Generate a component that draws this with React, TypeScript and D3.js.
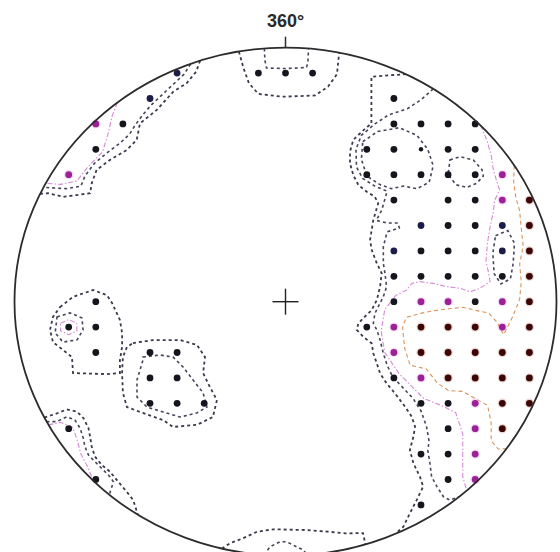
import React from "react";
import * as d3 from "d3";

const W = 560;
const H = 552;

// Net geometry: grid units run from -10 to 10 across the primitive circle
const X_RANGE: [number, number] = [14.5, 556.5];
const Y_RANGE: [number, number] = [47.7, 555.7];

const northLabel = "360°";

// Counting-grid nodes, grouped by density class (column, row)
const darkNodes: [number, number][] = [
  [-1, -9], [0, -9], [1, -9],
  [-6, -7], [-7, -6],
  [-7, 0], [-8, 1], [-7, 1], [-7, 2],
  [-5, 2], [-4, 2], [-5, 3], [-4, 3], [-5, 4], [-4, 4], [-3, 4],
  [-8, 5], [-7, 7],
  [4, -8],
  [4, -7], [5, -7], [6, -7], [7, -7],
  [3, -6], [4, -6], [6, -6], [7, -6],
  [3, -5], [4, -5], [5, -5], [6, -5], [7, -5],
  [4, -4], [6, -4], [7, -4],
  [6, -3], [7, -3],
  [5, -2], [6, -2], [7, -2],
  [4, -1], [5, -1], [6, -1], [7, -1], [8, -1],
  [4, 0], [7, 0],
  [3, 1],
  [4, 3],
  [5, 4], [6, 4],
  [6, 5],
  [5, 6], [6, 6],
  [6, 7],
  [5, 8],
];
const navyNodes: [number, number][] = [
  [-4, -9], [-5, -8], [5, -3], [8, -3], [4, -2], [8, -2],
];
const smallNodes: [number, number][] = [[5, -6]];
const magentaNodes: [number, number][] = [
  [-7, -7], [-8, -5], [8, -5], [8, -4], [5, 0], [6, 0], [8, 0], [4, 1], [8, 1],
  [4, 2], [5, 3], [7, 4], [7, 5], [7, 6], [7, 7],
];
const redNodes: [number, number][] = [
  [9, -4], [9, -3], [9, -2], [9, -1], [9, 0],
  [5, 1], [6, 1], [7, 1], [9, 1],
  [5, 2], [6, 2], [7, 2], [8, 2], [9, 2],
  [6, 3], [7, 3], [8, 3], [9, 3],
  [8, 4], [9, 4], [8, 5],
];

type Pt = [number, number];

// Contour lines (grid units)
const topOuter: Pt[] = [[-1.72, -9.85], [-1.55, -9.2], [-1.35, -8.6], [-1.0, -8.18], [-0.1, -8.07], [1.1, -8.12], [1.57, -8.47], [1.9, -8.96], [1.98, -9.8]];
const topInner: Pt[] = [[-0.78, -9.97], [-0.76, -9.5], [-0.7, -9.2], [0, -9.18], [0.78, -9.22], [0.83, -9.5], [0.85, -9.96]];

const nwOuter: Pt[] = [[-3.15, -9.49], [-3.3, -9.05], [-3.65, -8.6], [-4.14, -8.27], [-4.75, -7.55], [-5.37, -7.02], [-5.49, -6.37], [-5.86, -5.97], [-6.48, -5.58], [-6.97, -5.19], [-7.15, -4.66], [-7.21, -4.27], [-7.7, -4.2], [-8.2, -4.13], [-8.75, -4.27], [-9.05, -4.25]];
const nwInner: Pt[] = [[-3.5, -9.36], [-3.75, -8.95], [-4.05, -8.65], [-4.45, -8.25], [-4.95, -7.75], [-5.25, -7.38], [-5.55, -6.95], [-5.75, -6.6], [-6.1, -6.25], [-6.6, -5.85], [-7.05, -5.45], [-7.4, -4.95], [-7.55, -4.55], [-8.1, -4.45], [-8.93, -4.5]];
const nwMid: Pt[] = [[-6.2, -7.85], [-6.4, -7.3], [-6.55, -6.6], [-6.75, -5.9], [-7.3, -5.3], [-7.7, -4.75], [-8.3, -4.62], [-8.85, -4.66]];

const westOuter: Pt[] = [[-8.32, 0.21], [-7.84, -0.19], [-7.1, -0.46], [-6.59, -0.26], [-6.4, 0.05], [-6.11, 0.72], [-6.03, 1.23], [-6.03, 1.78], [-6.11, 2.3], [-6.11, 2.81], [-6.59, 2.85], [-7.84, 2.81], [-7.88, 2.18], [-8.21, 1.9], [-8.58, 1.59], [-8.69, 1.11], [-8.58, 0.6]];
const westInner: Pt[] = [[-8.43, 0.6], [-7.95, 0.44], [-7.51, 0.64], [-7.47, 1.11], [-7.69, 1.5], [-8.21, 1.59], [-8.5, 1.23]];
const westMid: Pt[] = [[-8.3, 0.85], [-8.0, 0.7], [-7.7, 0.85], [-7.7, 1.15], [-8.0, 1.3], [-8.3, 1.15]];

const southwestOuter: Pt[] = [[-5.63, 1.63], [-4.89, 1.51], [-3.89, 1.51], [-3.27, 1.7], [-2.97, 2.18], [-3.04, 2.81], [-2.79, 3.36], [-2.53, 3.87], [-2.68, 4.54], [-3.27, 4.85], [-4.15, 4.93], [-4.52, 4.66], [-5.26, 4.38], [-5.85, 4.15], [-6.0, 3.59], [-6.03, 2.81], [-6.0, 2.18], [-5.85, 1.78]];
const southwestInner: Pt[] = [[-5.26, 2.18], [-4.63, 2.1], [-4.15, 2.18], [-3.78, 2.57], [-3.41, 3.08], [-3.04, 3.59], [-2.9, 4.15], [-3.27, 4.38], [-3.89, 4.54], [-4.52, 4.34], [-5.11, 4.15], [-5.48, 3.75], [-5.48, 3.08], [-5.26, 2.3]];

const rimOuter: Pt[] = [[-8.9, 4.56], [-8.44, 4.4], [-8.07, 4.24], [-7.69, 4.33], [-7.45, 4.59], [-7.27, 4.98], [-7.21, 5.31], [-7.15, 5.71], [-7.03, 6.1], [-6.78, 6.43], [-6.48, 6.69], [-6.17, 7.09], [-5.86, 7.48], [-5.62, 7.81], [-5.45, 8.38]];
const rimInner: Pt[] = [[-8.82, 4.72], [-8.44, 4.72], [-8.07, 4.53], [-7.77, 4.66], [-7.58, 4.98], [-7.46, 5.38], [-7.4, 5.71], [-7.27, 6.04], [-7.03, 6.3], [-6.72, 6.63], [-6.48, 6.89], [-6.35, 7.09], [-6.5, 7.6]];
const rimMid: Pt[] = [[-8.75, 4.85], [-8.3, 4.75], [-7.85, 4.95], [-7.7, 5.4], [-7.55, 6.0], [-7.3, 6.5], [-7.1, 7.04]];

const southOuter: Pt[] = [[-2.35, 9.72], [-2.05, 9.51], [-1.56, 9.31], [-1.06, 9.06], [-0.45, 8.96], [0.78, 8.99], [1.64, 9.06], [2.2, 9.12], [2.86, 9.11], [2.95, 9.56]];
const southInner: Pt[] = [[-0.8, 9.97], [-0.57, 9.65], [-0.2, 9.45], [0.04, 9.45], [0.41, 9.65], [0.66, 9.78], [0.8, 9.97]];

const eastOuter: Pt[] = [[4.45, -8.96], [3.17, -8.86], [3.17, -7.9], [3.17, -7.02], [2.81, -6.69], [2.5, -6.37], [2.38, -5.91], [2.38, -5.45], [2.5, -4.99], [2.69, -4.59], [3.0, -4.33], [3.3, -4.13], [3.42, -3.87], [3.24, -3.22], [3.18, -2.82], [3.12, -2.43], [3.18, -2.04], [3.37, -1.51], [3.55, -1.12], [3.49, -0.59], [3.37, -0.07], [3.18, 0.33], [2.93, 0.59], [2.69, 0.85], [2.63, 1.11], [2.87, 1.38], [3.18, 1.64], [3.24, 2.03], [3.37, 2.43], [3.49, 2.82], [3.73, 3.21], [4.04, 3.61], [4.41, 4.13], [4.66, 4.53], [4.78, 4.92], [4.72, 5.31], [4.59, 5.84], [4.72, 6.36], [4.96, 6.89], [5.08, 7.28], [4.84, 7.81], [4.59, 8.33], [4.35, 8.86], [4.1, 9.1]];
const eastInner: Pt[] = [[5.45, -8.38], [5.0, -7.95], [4.5, -7.6], [3.8, -7.35], [3.3, -7.0], [2.8, -6.55], [2.6, -6.0], [2.62, -5.3], [2.85, -4.85], [3.3, -4.55], [3.75, -4.35], [3.55, -3.6], [3.35, -3.2], [3.75, -3.1], [4.15, -3.1], [4.2, -2.9], [3.75, -2.75], [3.61, -2.17], [3.61, -1.51], [3.67, -1.12], [3.73, -0.59], [3.61, -0.2], [3.42, 0.2], [3.3, 0.46], [3.24, 0.85], [3.37, 1.11], [3.49, 1.51], [3.61, 2.03], [3.75, 2.5], [3.95, 2.95], [4.3, 3.35], [4.7, 3.8], [5.0, 4.3], [5.2, 4.9], [5.3, 5.5], [5.25, 5.84], [5.33, 6.36], [5.39, 6.89], [5.59, 7.28], [5.83, 7.68], [6.07, 7.81], [6.4, 7.68]];
const eastLoop: Pt[] = [[2.85, -6.3], [3.4, -6.7], [4.2, -6.85], [4.85, -6.55], [5.25, -6.0], [5.45, -5.35], [5.3, -4.7], [4.85, -4.45], [4.35, -4.55], [3.9, -4.45], [3.5, -4.6], [3.0, -4.95], [2.8, -5.6]];
const eastHoleA: Pt[] = [[6.07, -5.58], [6.44, -5.71], [6.93, -5.58], [7.25, -5.2], [7.3, -4.95], [7.05, -4.66], [6.69, -4.5], [6.3, -4.6], [6.0, -5.0]];
const eastHoleB: Pt[] = [[7.75, -2.6], [8.2, -2.8], [8.45, -2.3], [8.4, -1.5], [8.3, -0.9], [7.95, -0.7], [7.7, -1.1], [7.65, -1.9]];
const eastMid: Pt[] = [[7.2, -6.95], [7.45, -6.3], [7.6, -5.71], [7.66, -5.25], [7.78, -4.79], [7.9, -4.4], [7.72, -4.0], [7.66, -3.48], [7.55, -2.95], [7.45, -2.3], [7.4, -1.6], [7.5, -1.1], [7.55, -0.79], [7.18, -0.53], [6.81, -0.39], [6.44, -0.53], [5.95, -0.59], [5.45, -0.72], [4.96, -0.79], [4.66, -0.72], [4.47, -0.46], [4.06, -0.24], [3.66, 0.32], [3.53, 1.16], [3.66, 1.99], [4.19, 2.83], [4.71, 3.39], [5.1, 3.81], [5.76, 4.09], [6.28, 4.37], [6.54, 5.2], [6.54, 6.04], [6.54, 6.88], [6.68, 7.43]];
const eastPeak: Pt[] = [[8.44, -5.36], [8.42, -4.7], [8.5, -4.1], [8.64, -3.58], [8.7, -2.89], [8.77, -2.19], [8.64, -1.49], [8.7, -0.79], [8.64, -0.1], [8.4, 0.55], [8.05, 1.3], [7.8, 0.8], [7.5, 0.45], [7.07, 0.35], [6.54, 0.22], [6.02, 0.28], [5.5, 0.35], [4.97, 0.46], [4.45, 0.62], [4.32, 1.02], [4.4, 1.85], [4.6, 2.5], [5.2, 2.65], [5.6, 3.2], [6.02, 3.5], [6.54, 3.53], [7.46, 4.09], [7.59, 4.78], [7.59, 5.48], [7.85, 5.8], [8.15, 5.79]];

type ContourLine = { pts: Pt[]; level: number; closed?: boolean };

const contourLines: ContourLine[] = [
  { pts: topOuter, level: 1 },
  { pts: topInner, level: 2 },
  { pts: nwOuter, level: 1 },
  { pts: nwInner, level: 2 },
  { pts: nwMid, level: 3 },
  { pts: westOuter, level: 1, closed: true },
  { pts: westInner, level: 2, closed: true },
  { pts: westMid, level: 3, closed: true },
  { pts: southwestOuter, level: 1, closed: true },
  { pts: southwestInner, level: 2, closed: true },
  { pts: rimOuter, level: 1 },
  { pts: rimInner, level: 2 },
  { pts: rimMid, level: 3 },
  { pts: southOuter, level: 1 },
  { pts: southInner, level: 2 },
  { pts: eastOuter, level: 1 },
  { pts: eastInner, level: 2 },
  { pts: eastLoop, level: 2, closed: true },
  { pts: eastHoleA, level: 2, closed: true },
  { pts: eastHoleB, level: 2, closed: true },
  { pts: eastMid, level: 3 },
  { pts: eastPeak, level: 4 },
];

const levelStyle: Record<number, { stroke: string; width: number; dash: string }> = {
  1: { stroke: "#3a3a4c", width: 1.8, dash: "3 3" },
  2: { stroke: "#46465a", width: 1.6, dash: "3 3" },
  3: { stroke: "#d68ad6", width: 1.1, dash: "5 2 1.5 2" },
  4: { stroke: "#d9935a", width: 1.1, dash: "4 3" },
};

export default function App() {
  const x = d3.scaleLinear().domain([-10, 10]).range(X_RANGE);
  const y = d3.scaleLinear().domain([-10, 10]).range(Y_RANGE);
  const cx = x(0);
  const cy = y(0);
  const rx = x(10) - x(0);
  const ry = y(10) - y(0);

  const open = d3.line<Pt>().x((d) => x(d[0])).y((d) => y(d[1]));
  const closed = d3
    .line<Pt>()
    .x((d) => x(d[0]))
    .y((d) => y(d[1]))
    .curve(d3.curveLinearClosed);

  const dot = (n: Pt, fill: string, r: number, halo?: string, key?: string) => (
    <g key={key}>
      {halo && <circle cx={x(n[0])} cy={y(n[1])} r={r + 1.3} fill={halo} opacity={0.3} />}
      <circle cx={x(n[0])} cy={y(n[1])} r={r} fill={fill} />
    </g>
  );

  return (
    <svg
      width={W}
      height={H}
      style={{ position: "absolute", left: 0, top: 0, background: "#fff" }}
    >
      <defs>
        <clipPath id="net-clip">
          <ellipse cx={cx} cy={cy} rx={rx} ry={ry} />
        </clipPath>
      </defs>

      <g clipPath="url(#net-clip)" fill="none">
        {contourLines.map((c, i) => {
          const s = levelStyle[c.level];
          return (
            <path
              key={i}
              d={(c.closed ? closed : open)(c.pts) || ""}
              stroke={s.stroke}
              strokeWidth={s.width}
              strokeDasharray={s.dash}
            />
          );
        })}
      </g>

      <g>
        {darkNodes.map((n, i) => dot(n, "#15151d", 3.4, undefined, "k" + i))}
        {navyNodes.map((n, i) => dot(n, "#1c1c48", 3.4, undefined, "n" + i))}
        {smallNodes.map((n, i) => dot(n, "#15151d", 2.2, undefined, "s" + i))}
        {magentaNodes.map((n, i) => dot(n, "#9c2096", 3.4, "#e08ae0", "m" + i))}
        {redNodes.map((n, i) => dot(n, "#3c0606", 3.4, "#c07a62", "r" + i))}
      </g>

      <ellipse cx={cx} cy={cy} rx={rx} ry={ry} fill="none" stroke="#2c2c2c" strokeWidth={1.8} />

      {/* centre cross */}
      <line x1={cx - 13} x2={cx + 13} y1={cy} y2={cy} stroke="#222" strokeWidth={1.4} />
      <line x1={cx} x2={cx} y1={cy - 13} y2={cy + 13} stroke="#222" strokeWidth={1.4} />

      {/* north tick and label */}
      <line x1={cx} x2={cx} y1={cy - ry - 11} y2={cy - ry} stroke="#2c2c2c" strokeWidth={1.5} />
      <text
        x={cx}
        y={27}
        textAnchor="middle"
        fontFamily="'Liberation Sans', Arial, sans-serif"
        fontSize={18}
        fontWeight="bold"
        fill="#2a2a2a"
      >
        {northLabel}
      </text>
    </svg>
  );
}
